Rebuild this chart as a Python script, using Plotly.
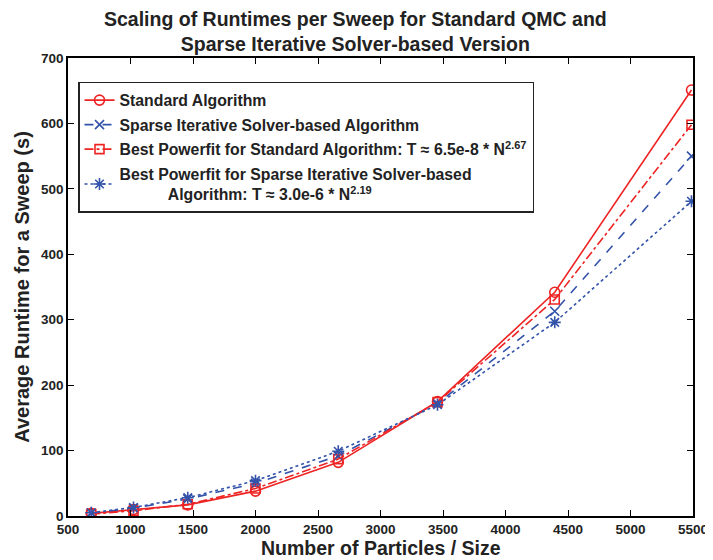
import plotly.graph_objects as go

# particle counts (N = 2 L^3)
n_particles = [686, 1024, 1458, 2000, 2662, 3456, 4394, 5488]

standard = [4, 10, 17, 38, 82, 175, 342, 651]
sparse = [4.5, 12, 26, 50, 92, 172, 313, 550]
fit_standard = [3, 8, 18, 42, 87, 174, 331, 598]
fit_sparse = [5, 13, 28, 54, 99, 170, 296, 481]

RED = "#EE2424"
BLUE = "#3353AA"
FONT = "Liberation Sans, Arial, sans-serif"

series = [
    ("Standard Algorithm", standard, RED, "solid", "circle-open", 10),
    ("Sparse Iterative Solver-based Algorithm", sparse, BLUE, "dash", "x-thin-open", 9),
    ("Best Powerfit for Standard Algorithm: T \u2248 6.5e-8 * N<sup>2.67</sup>",
     fit_standard, RED, "dashdot", "square-open", 9),
    ("Best Powerfit for Sparse Iterative Solver-based<br>"
     "\u00a0\u00a0\u00a0\u00a0\u00a0\u00a0\u00a0\u00a0\u00a0\u00a0\u00a0Algorithm: T \u2248 3.0e-6 * N<sup>2.19</sup>",
     fit_sparse, BLUE, "dot", "asterisk-open", 10),
]

fig = go.Figure()
for i, (name, vals, col, dash, sym, size) in enumerate(series):
    fig.add_trace(go.Scatter(
        x=n_particles, y=vals, name=name, mode="lines+markers",
        legendgroup=f"g{i}",
        line=dict(color=col, width=1.6, dash=dash),
        marker=dict(symbol=sym, size=size, color=col, line=dict(color=col, width=1.6)),
    ))

axis_common = dict(
    showline=True, linecolor="black", linewidth=1.5, mirror="ticks",
    ticks="inside", ticklen=6, tickcolor="black", tickwidth=1.3,
    showgrid=False, zeroline=False, automargin=False,
    tickfont=dict(family=FONT, size=13.5, color="#222222", weight="bold"),
)

# title and x label as annotations so they sit where the reference has them
fig.add_annotation(
    text="<b>Scaling of Runtimes per Sweep for Standard QMC and<br>Sparse Iterative Solver-based Version</b>",
    xref="paper", yref="paper", x=0.46, y=1.058, xanchor="center", yanchor="middle",
    showarrow=False, font=dict(family=FONT, size=19.5, color="#222222"),
)
fig.add_annotation(
    text="<b>Number of Particles / Size</b>",
    xref="paper", yref="paper", x=0.5, y=-0.07, xanchor="center", yanchor="middle",
    showarrow=False, font=dict(family=FONT, size=19.5, color="#222222"),
)

# page body adds an 8px offset, so the figure is 8px smaller than the window
fig.update_layout(
    width=705, height=552,
    plot_bgcolor="white", paper_bgcolor="white",
    font=dict(family=FONT, color="black"),
    xaxis=dict(
        range=[500, 5500], tickvals=list(range(500, 5501, 500)),
        **axis_common,
    ),
    yaxis=dict(
        range=[0, 700], tickvals=list(range(0, 701, 100)),
        title=dict(text="<b>Average Runtime for a Sweep (s)</b>", standoff=6,
                   font=dict(family=FONT, size=20, color="#222222")),
        **axis_common,
    ),
    legend=dict(
        x=0.016, y=0.948, xanchor="left", yanchor="top",
        bgcolor="white", bordercolor="#222222", borderwidth=1.5,
        font=dict(family=FONT, size=15.8, color="#222222", weight="bold"),
        tracegroupgap=1, itemwidth=30,
    ),
    margin=dict(l=60, r=20, t=50, b=44),
)

fig.write_html("out.html")
